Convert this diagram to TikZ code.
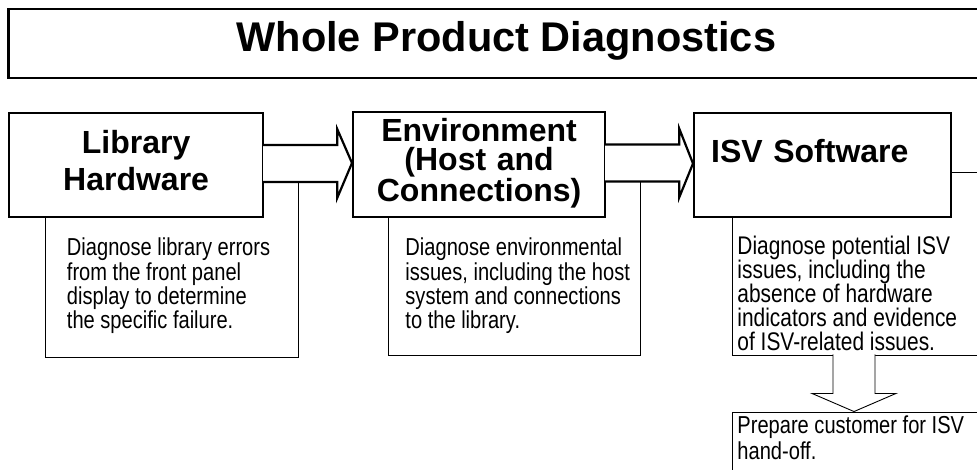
\documentclass[tikz,border=0pt]{standalone}
\usepackage{fontspec}
\setmainfont{Liberation Sans}
\newfontfamily\narrowfont[FakeStretch=0.82]{Liberation Sans}
\usetikzlibrary{calc}
\tikzset{
  headbox/.style={draw, line width=2.2pt, fill=white, inner xsep=0pt, inner ysep=0pt,
    anchor=base west, font=\bfseries\fontsize{32}{37}\selectfont},
  descbox/.style={draw, line width=0.9pt, inner ysep=0pt, align=flush left, anchor=base west,
    font=\narrowfont\fontsize{24.5}{24.3}\selectfont},
  headarrow/.style={line width=2.2pt, fill=white},
  descarrow/.style={line width=0.9pt, fill=white}
}

\begin{document}
\begin{tikzpicture}[x=1pt, y=1pt]
    \useasboundingbox (0,0) rectangle (977,-470);
    \clip (0,0) rectangle (977,-470);

    % title bar
    \node[draw, line width=2.6pt, minimum width=996pt, inner ysep=0pt, text height=43pt, text depth=26pt,
      anchor=base west, font=\bfseries\fontsize{41.5}{48}\selectfont] (title) at (7,-52) {Whole Product Diagnostics};

    % description boxes, their tops hidden behind the step boxes
    \node[descbox, text width=210pt, inner xsep=21.5pt, text height=84pt, text depth=101pt] (libdesc) at (45,-256)
      {Diagnose library errors\\from the front panel\\display to determine\\the specific failure.};
    \node[descbox, text width=218pt, inner xsep=17pt, text height=84pt, text depth=99pt] (envdesc) at (388,-256)
      {\mbox{Diagnose environmental}\\\mbox{issues, including the host}\\system and connections\\to the library.};
    \node[descbox, text width=268pt, inner xsep=5pt, text height=83pt, text depth=100pt,
      font=\narrowfont\fontsize{25.5}{23.8}\selectfont] (isvdesc) at (732,-255)
      {Diagnose potential ISV\\issues, including the\\absence of hardware\\indicators and evidence\\of ISV-related issues.};
    \node[descbox, text width=268pt, inner xsep=5pt, text height=21pt, text depth=57pt,
      font=\narrowfont\fontsize{24.5}{26}\selectfont] (handoff) at (732,-433) {Prepare customer for ISV\\hand-off.};

    \draw[descarrow] ($(isvdesc.south west)+(101,1)$) -- ++(0,-39) -- ++(-21,0)
      -- ($(handoff.north west)+(122,0)$) -- ($(isvdesc.south west)+(164,-38)$) -- ++(-21,0) -- ++(0,39);

    % step boxes
    \node[headbox, text width=254pt, align=center, text height=41pt, text depth=63pt] (lib) at (8,-154)
      {Library\\Hardware};
    \node[headbox, text width=252pt, align=center, text height=30pt, text depth=75pt,
      font=\bfseries\fontsize{32}{29}\selectfont] (env) at (352,-142) {Environment\\(Host and\\Connections)};
    \node[headbox, text width=223pt, inner xsep=17pt, align=left, text height=50pt, text depth=54pt] (isv) at (693,-163)
      {ISV Software};

    \foreach \a/\b in {lib/env, env/isv}
      \draw[headarrow] ($(\a.east)+(-1.1,20)$) -- ++(74.1,0) -- ++(0,16) -- ($(\b.west)+(0,1.5)$)
        -- ($(\a.east)+(73,-33)$) -- ++(0,16) -- ($(\a.east)+(-1.1,-17)$);
\end{tikzpicture}
\end{document}
